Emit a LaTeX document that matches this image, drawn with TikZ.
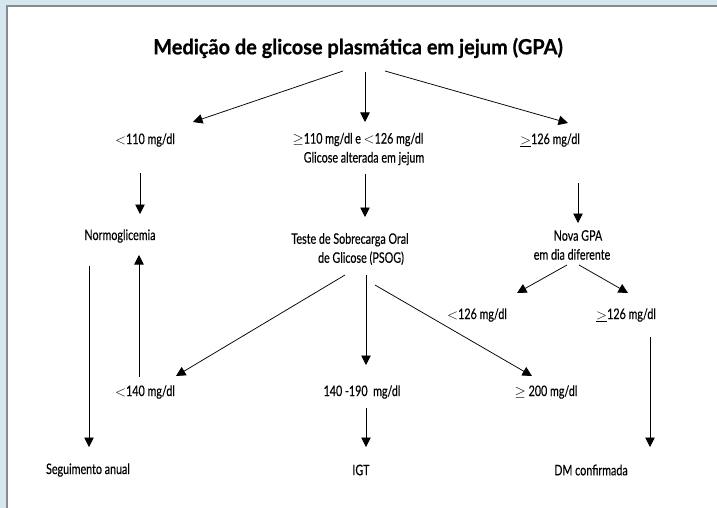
\documentclass[tikz,border=0pt]{standalone}
\usepackage{fontspec}
\setmainfont{Lato}[FakeStretch=0.74,FakeBold=0.3]
\newfontfamily\titlefont{Lato}[FakeStretch=0.95,FakeBold=0.6]
\usetikzlibrary{arrows.meta,calc}
\definecolor{bgblue}{HTML}{D6E6EE}
\definecolor{framegray}{HTML}{858C90}
\begin{document}
\begin{tikzpicture}[x=1pt,y=-1pt,
  lbl/.style={inner sep=0pt,font=\fontsize{14.5}{19}\selectfont,align=center},
  ttl/.style={inner sep=0pt,font=\titlefont\fontsize{21}{24}\selectfont\bfseries},
  arr/.style={line width=0.75pt,-{Triangle[length=9.5pt,width=9.5pt]}}]
\useasboundingbox (0,0) rectangle (717,508);
\fill[bgblue] (0,0) rectangle (717,508);
\fill[white] (7,6) rectangle (717,508);
\draw[framegray,line width=1.8pt] (7,508) -- (7,6) -- (717,6);
% nodes
\node[ttl] (title) at (358,48) {Medição de glicose plasmática em jejum (GPA)};
\node[lbl] (a1) at (145,140) {$<$110 mg/dl};
\node[lbl] (a2) at (358,149) {$\geq$110 mg/dl e $<$126 mg/dl\\\hspace*{12pt}Glicose alterada em jejum};
\node[lbl] (a3) at (550,140) {$\underline{>}$126 mg/dl};
\node[lbl] (b1) at (120,236) {Normoglicemia};
\node[lbl] (b2) at (350,249) {Teste de Sobrecarga Oral\\\hspace*{22pt}de Glicose (PSOG)};
\node[lbl] (b3) at (572,245) {\hspace*{12pt}Nova GPA\\em dia diferente};
\node[lbl] (c1) at (477,315) {$<$126 mg/dl};
\node[lbl] (c2) at (626,315) {$\underline{>}$126 mg/dl};
\node[lbl] (d1) at (145,392) {$<$140 mg/dl};
\node[lbl] (d2) at (362,392) {140 -190\ \ mg/dl};
\node[lbl] (d3) at (546,392) {$\geq$ 200 mg/dl};
\node[lbl] (e1) at (88,470) {Seguimento anual};
\node[lbl] (e2) at (361,470) {IGT};
\node[lbl] (e3) at (591,470) {DM confirmada};
% connectors
\draw[arr] ($(title)+(-15,23)$) -- ($(a1)+(48,-18)$);
\draw[arr] ($(title)+(7,24)$) -- ($(a2)+(7,-27)$);
\draw[arr] ($(title)+(27,23)$) -- ($(a3)+(18,-17)$);
\draw[arr] ($(a1)+(-5,33)$) -- ($(b1)+(20,-22)$);
\draw[arr] ($(a2)+(7,25)$) -- ($(b2)+(15,-32)$);
\draw[arr] ($(a3)+(28,43)$) -- ($(b3)+(6,-22)$);
\draw[arr] ($(b1)+(-31,30)$) -- ($(e1)+(1,-23)$);
\draw[arr] ($(d1)+(-6,-15)$) -- ($(b1)+(19,19)$);
\draw[arr] ($(b2)+(-5,26)$) -- ($(d1)+(31,-16)$);
\draw[arr] ($(b2)+(16,26)$) -- ($(d2)+(4,-27)$);
\draw[arr] ($(b2)+(25,36)$) -- ($(d3)+(-14,-16)$);
\draw[arr] ($(b3)+(-5,20)$) -- ($(c1)+(40,-22)$);
\draw[arr] ($(b3)+(7,20)$) -- ($(c2)+(2,-22)$);
\draw[arr] ($(c2)+(24,22)$) -- ($(e3)+(59,-23)$);
\draw[arr] ($(d2)+(4,16)$) -- ($(e2)+(5,-23)$);
\end{tikzpicture}
\end{document}
